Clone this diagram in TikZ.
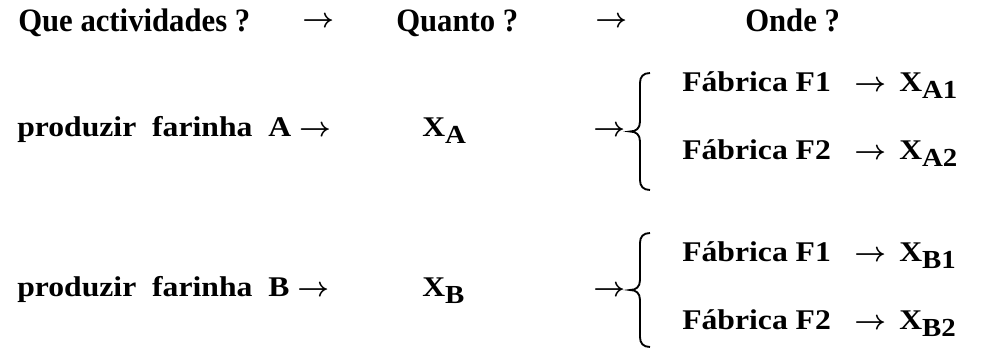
\documentclass[tikz,border=0pt]{standalone}
\usepackage{fontspec}
\setmainfont{Liberation Serif}
\newfontfamily\headfont[FakeStretch=0.94]{Liberation Serif}
\newfontfamily\bodyfont[FakeStretch=1.11]{Liberation Serif}
\usetikzlibrary{positioning}

\newcommand{\lowsub}[1]{\raisebox{-5pt}{\fontsize{19.5}{19.5}\selectfont #1}}
\newcommand{\arr}{{\boldmath$\rightarrow$}}

\tikzset{
  head/.style={font=\headfont\bfseries\fontsize{24.5}{28}\selectfont, anchor=base west, inner sep=0pt},
  txt/.style={font=\bodyfont\bfseries\fontsize{21.4}{24}\selectfont, anchor=base west, inner sep=0pt}
}

\begin{document}
\begin{tikzpicture}[x=0.75pt,y=-0.75pt]
    \useasboundingbox (0,0) rectangle (984,348);

    % header
    \node[head] (que) at (18,32) {Que actividades ?};
    \node[txt] (arrq) at (302,28) {\arr};
    \node[head] (quanto) at (396,32) {Quanto ?};
    \node[txt] (arro) at (595,28) {\arr};
    \node[head] (onde) at (745,32) {Onde ?};

    % farinha A
    \node[txt] (prodA) at (17,137) {produzir\ \ farinha\ \ A \arr};
    \node[txt] (xA) at (422,137) {X\lowsub{A}};
    \node[txt] (toA) at (593,137) {\arr};
    \node[txt] (fabA1) at (682,92) {Fábrica F1};
    \node[txt] (arrA1) at (854,92) {\arr};
    \node[txt] (xA1) at (899,92) {X\lowsub{A1}};
    \node[txt] (fabA2) at (682,160) {Fábrica F2};
    \node[txt] (arrA2) at (854,160) {\arr};
    \node[txt] (xA2) at (899,160) {X\lowsub{A2}};

    % farinha B
    \node[txt] (prodB) at (17,297) {produzir\ \ farinha\ \ B \arr};
    \node[txt] (xB) at (422,297) {X\lowsub{B}};
    \node[txt] (toB) at (593,297) {\arr};
    \node[txt] (fabB1) at (682,262) {Fábrica F1};
    \node[txt] (arrB1) at (854,262) {\arr};
    \node[txt] (xB1) at (899,262) {X\lowsub{B1}};
    \node[txt] (fabB2) at (682,330) {Fábrica F2};
    \node[txt] (arrB2) at (854,330) {\arr};
    \node[txt] (xB2) at (899,330) {X\lowsub{B2}};

    % braces
    \foreach \yt/\yb in {73/190, 233/347} {
        \pgfmathsetmacro\ym{(\yt+\yb)/2}
        \draw[line width=1.4pt] (650,\yt) .. controls (643,\yt) and (640,{\yt+4}) .. (640,{\yt+10})
            -- (640,{\ym-10}) .. controls (640,{\ym-3}) and (636,\ym) .. (630,\ym)
            .. controls (636,\ym) and (640,{\ym+3}) .. (640,{\ym+10})
            -- (640,{\yb-10}) .. controls (640,{\yb-4}) and (643,\yb) .. (650,\yb);
    }
\end{tikzpicture}
\end{document}
